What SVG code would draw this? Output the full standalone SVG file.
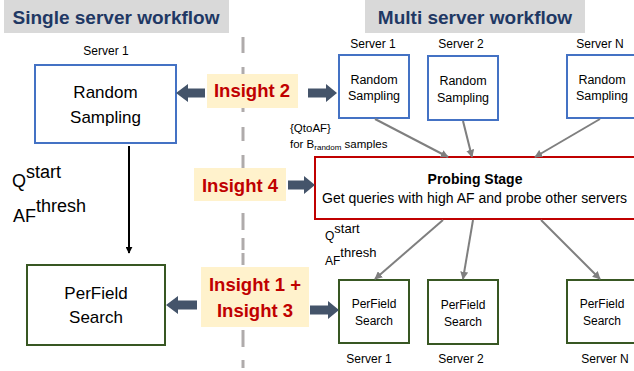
<svg xmlns="http://www.w3.org/2000/svg" width="634" height="371" viewBox="0 0 634 371">
<defs>
<style>
text{font-family:"Liberation Sans",Arial,sans-serif;fill:#000}
.title{font-size:19px;font-weight:bold;fill:#1F3864}
.tbg{fill:#D9D9D9}
.ins{fill:#FFF2CC}
.inst{font-size:18.5px;font-weight:bold;fill:#C00000}
.blue{fill:#fff;stroke:#4472C4;stroke-width:2}
.green{fill:#fff;stroke:#385723;stroke-width:2}
.red{fill:#fff;stroke:#C00000;stroke-width:2}
.big{font-size:17px}
.sm{font-size:12.5px}
.lab{font-size:12px}
.gc{stroke:#7F7F7F;stroke-width:2;fill:none;marker-end:url(#ga)}
.blk{fill:#44546A}
</style>
<marker id="ga" viewBox="0 0 10 10" refX="9" refY="5" markerWidth="4" markerHeight="4" orient="auto" markerUnits="strokeWidth"><path d="M0 0L10 5L0 10z" fill="#7F7F7F"/></marker>
<marker id="ba" viewBox="0 0 10 10" refX="9" refY="5" markerWidth="3.5" markerHeight="3.5" orient="auto" markerUnits="strokeWidth"><path d="M0 0L10 5L0 10z" fill="#000"/></marker>
</defs>

<g id="titles">
<rect class="tbg" x="4" y="0" width="225" height="33"/>
<text class="title" x="116" y="24" text-anchor="middle">Single server workflow</text>
<rect class="tbg" x="365" y="0" width="220" height="33"/>
<text class="title" x="475" y="24" text-anchor="middle">Multi server workflow</text>
</g>

<g id="divider">
<path d="M243 37V53M243 67V83M243 96V112M243 127V141M243 155V171M243 185V200M243 213V230M243 238V250M243 253V265M243 330V347M243 360V368" stroke="#AFABAB" stroke-width="3" fill="none"/>
</g>

<g id="left-rs">
<text class="lab" x="106" y="55" text-anchor="middle">Server 1</text>
<rect class="blue" x="35" y="65" width="141" height="78"/>
<text class="big" x="105.5" y="98" text-anchor="middle">Random</text>
<text class="big" x="105.5" y="123" text-anchor="middle">Sampling</text>
</g>

<g id="left-params">
<text style="font-size:18px" x="12" y="187">Q<tspan dy="-9">start</tspan></text>
<text style="font-size:18px" x="13" y="222">AF<tspan dy="-10">thresh</tspan></text>
</g>

<g id="left-pf">
<rect class="green" x="27" y="265" width="138" height="80"/>
<text class="big" x="96" y="299" text-anchor="middle">PerField</text>
<text class="big" x="96" y="323" text-anchor="middle">Search</text>
</g>

<g id="insight2">
<rect class="ins" x="207" y="74" width="91" height="34"/>
<text class="inst" x="252" y="97" text-anchor="middle">Insight 2</text>
</g>
<g id="insight4">
<rect class="ins" x="194" y="168" width="92" height="33"/>
<text class="inst" x="240" y="192" text-anchor="middle">Insight 4</text>
</g>
<g id="insight13">
<rect class="ins" x="201" y="267" width="108" height="60"/>
<text class="inst" x="255" y="291" text-anchor="middle">Insight 1 +</text>
<text class="inst" x="255" y="317" text-anchor="middle">Insight 3</text>
</g>

<g id="rs1">
<text class="lab" x="373" y="48" text-anchor="middle">Server 1</text>
<rect class="blue" x="339" y="55" width="70" height="63"/>
<text class="sm" x="374" y="84" text-anchor="middle">Random</text>
<text class="sm" x="374" y="100" text-anchor="middle">Sampling</text>
</g>
<g id="rs2">
<text class="lab" x="461" y="48" text-anchor="middle">Server 2</text>
<rect class="blue" x="428" y="56" width="70" height="64"/>
<text class="sm" x="463" y="85" text-anchor="middle">Random</text>
<text class="sm" x="463" y="102" text-anchor="middle">Sampling</text>
</g>
<g id="rsN">
<text class="lab" x="600" y="48" text-anchor="middle">Server N</text>
<rect class="blue" x="567" y="55" width="72" height="63"/>
<text class="sm" x="602" y="84" text-anchor="middle">Random</text>
<text class="sm" x="602" y="100" text-anchor="middle">Sampling</text>
</g>

<g id="qtoaf">
<text style="font-size:11.5px" x="290" y="132">{QtoAF}</text>
<text style="font-size:11.5px" x="290" y="148">for B<tspan style="font-size:8px" dy="2">random</tspan><tspan dy="-2"> samples</tspan></text>
</g>

<g id="probing">
<rect class="red" x="315" y="157" width="330" height="62"/>
<text style="font-size:14px;font-weight:bold" x="475" y="184" text-anchor="middle">Probing Stage</text>
<text style="font-size:14px" x="322" y="203">Get queries with high AF and probe other servers</text>
</g>

<g id="right-params">
<text style="font-size:12px" x="325" y="240">Q<tspan style="font-size:13px" dy="-7">start</tspan></text>
<text style="font-size:12px" x="325" y="265">AF<tspan style="font-size:13px" dy="-8">thresh</tspan></text>
</g>

<g id="pf1">
<rect class="green" x="339" y="280" width="70" height="63"/>
<text class="lab" x="374" y="308" text-anchor="middle">PerField</text>
<text class="lab" x="374" y="325" text-anchor="middle">Search</text>
<text class="lab" x="369" y="363" text-anchor="middle">Server 1</text>
</g>
<g id="pf2">
<rect class="green" x="428" y="280" width="70" height="64"/>
<text class="lab" x="463" y="309" text-anchor="middle">PerField</text>
<text class="lab" x="463" y="326" text-anchor="middle">Search</text>
<text class="lab" x="461" y="363" text-anchor="middle">Server 2</text>
</g>
<g id="pfN">
<rect class="green" x="567" y="280" width="72" height="63"/>
<text class="lab" x="602" y="308" text-anchor="middle">PerField</text>
<text class="lab" x="602" y="325" text-anchor="middle">Search</text>
<text class="lab" x="605" y="363" text-anchor="middle">Server N</text>
</g>

<g id="connectors">
<line x1="129" y1="146" x2="129" y2="253" stroke="#000" stroke-width="2" marker-end="url(#ba)"/>
<line class="gc" x1="375" y1="119" x2="448" y2="157"/>
<line class="gc" x1="463" y1="121" x2="472" y2="157"/>
<line class="gc" x1="600" y1="119" x2="535" y2="157"/>
<line class="gc" x1="443" y1="220" x2="375" y2="279"/>
<line class="gc" x1="473" y1="220" x2="463" y2="279"/>
<line class="gc" x1="541" y1="220" x2="600" y2="279"/>
<path class="blk" d="M176 93L188 84V88.5H205V97.5H188V102Z"/>
<path class="blk" d="M337 93L326 84V88.5H308V97.5H326V102Z"/>
<path class="blk" d="M315 185L304 176V180.5H288V189.5H304V194Z"/>
<path class="blk" d="M166 305L178 296V300.5H197V309.5H178V314Z"/>
<path class="blk" d="M339 310L328 301V305.5H310V314.5H328V319Z"/>
</g>
</svg>
